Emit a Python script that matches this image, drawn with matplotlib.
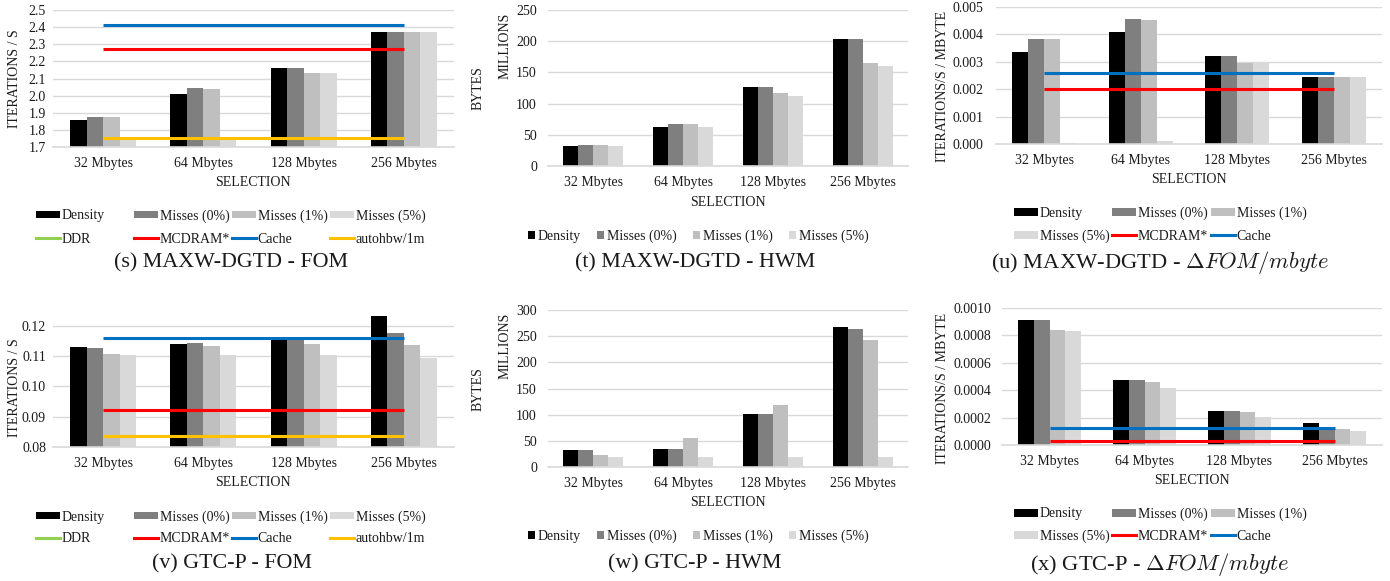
import numpy as np
import matplotlib
matplotlib.use("Agg")
import matplotlib.pyplot as plt
from matplotlib.patches import Rectangle
from matplotlib.lines import Line2D
from matplotlib.ticker import FormatStrFormatter

plt.rcParams['font.family'] = ['Liberation Serif', 'DejaVu Serif']
plt.rcParams['mathtext.fontset'] = 'cm'

# ---------------- data ----------------
categories = ["32 Mbytes", "64 Mbytes", "128 Mbytes", "256 Mbytes"]
series_names = ["Density", "Misses (0%)", "Misses (1%)", "Misses (5%)"]

# (s) MAXW-DGTD - FOM
s_density = [1.86, 2.01, 2.16, 2.37]
s_miss0 = [1.875, 2.045, 2.16, 2.37]
s_miss1 = [1.875, 2.04, 2.13, 2.37]
s_miss5 = [1.755, 1.76, 2.13, 2.37]
s_mcdram = [2.27, 2.27, 2.27, 2.27]
s_cache = [2.415, 2.415, 2.415, 2.415]
s_autohbw = [1.75, 1.75, 1.75, 1.75]

# (t) MAXW-DGTD - HWM (millions of bytes)
t_density = [32, 63, 126, 203]
t_miss0 = [34, 67, 126, 203]
t_miss1 = [34, 67, 117, 165]
t_miss5 = [32, 63, 112, 161]

# (u) MAXW-DGTD - dFOM/mbyte
u_density = [0.00336, 0.00410, 0.00321, 0.00243]
u_miss0 = [0.00383, 0.00455, 0.00320, 0.00243]
u_miss1 = [0.00385, 0.00451, 0.00297, 0.00243]
u_miss5 = [0.00004, 0.00010, 0.00298, 0.00243]
u_mcdram = [0.00202, 0.00202, 0.00202, 0.00202]
u_cache = [0.00259, 0.00259, 0.00259, 0.00259]

# (v) GTC-P - FOM
v_density = [0.1129, 0.1141, 0.1157, 0.1233]
v_miss0 = [0.1127, 0.1143, 0.1160, 0.1177]
v_miss1 = [0.1108, 0.1132, 0.1141, 0.1137]
v_miss5 = [0.1104, 0.1102, 0.1102, 0.1095]
v_mcdram = [0.0922, 0.0922, 0.0922, 0.0922]
v_cache = [0.1158, 0.1158, 0.1158, 0.1158]
v_autohbw = [0.0835, 0.0835, 0.0835, 0.0835]

# (w) GTC-P - HWM (millions of bytes)
w_density = [33, 35, 102, 268]
w_miss0 = [33, 35, 102, 263]
w_miss1 = [23, 56, 119, 242]
w_miss5 = [19, 19, 19, 19]

# (x) GTC-P - dFOM/mbyte
x_density = [0.000910, 0.000475, 0.000248, 0.000158]
x_miss0 = [0.000910, 0.000478, 0.000250, 0.000135]
x_miss1 = [0.000842, 0.000462, 0.000238, 0.000118]
x_miss5 = [0.000830, 0.000413, 0.000205, 0.000100]
x_mcdram = [0.000032, 0.000032, 0.000032, 0.000032]
x_cache = [0.000125, 0.000125, 0.000125, 0.000125]

# ---------------- style ----------------
bar_colors = ["#000000", "#7f7f7f", "#bfbfbf", "#d9d9d9"]
c_ddr, c_mcdram, c_cache, c_auto = "#92d050", "#ff0000", "#0070c0", "#ffc000"
grid_c = "#d9d9d9"
txt_c = "#1a1a1a"
W, H = 1390, 581
CAP = 15.8
CAPM = 16.2

fig = plt.figure(figsize=(W / 100, H / 100), dpi=100)


def fx(x):
    return x / W


def fy(y):
    return 1 - y / H


def make_ax(l, r, t, b):
    return fig.add_axes([fx(l), fy(b), (r - l) / W, (b - t) / H])


def style(ax, ylim, step, fmt, ypad):
    ax.set_xlim(-0.5, 3.5)
    ax.set_ylim(*ylim)
    ax.set_yticks(np.arange(ylim[0], ylim[1] + step * 0.01, step))
    if fmt:
        ax.yaxis.set_major_formatter(FormatStrFormatter(fmt))
    ax.set_xticks(np.arange(len(categories)))
    ax.set_xticklabels(categories)
    for sp in ("top", "right", "left"):
        ax.spines[sp].set_visible(False)
    ax.spines["bottom"].set_color(grid_c)
    ax.spines["bottom"].set_linewidth(1.2)
    ax.grid(axis="y", color=grid_c, linewidth=1.0)
    ax.set_axisbelow(True)
    ax.tick_params(axis="both", length=0, labelsize=10, colors=txt_c)
    ax.tick_params(axis="y", pad=ypad)
    ax.tick_params(axis="x", pad=7)


def bars(ax, series):
    x = np.arange(len(categories))
    w = 0.165
    for i, (vals, col) in enumerate(zip(series, bar_colors)):
        ax.bar(x + (i - 1.5) * w, vals, width=w, color=col, linewidth=0, zorder=2)


def hline(ax, vals, col):
    ax.plot(np.arange(len(categories)), vals, color=col, linewidth=2.2, zorder=3,
            solid_capstyle="butt")


def entry(handle, label, x, y, hh):
    fig.legend(handles=[handle], labels=[label], loc="center left",
               bbox_to_anchor=(fx(x), fy(y)), frameon=False, borderpad=0,
               borderaxespad=0, handlelength=24 / 13.9, handleheight=hh,
               handletextpad=0.12, fontsize=10, labelcolor=txt_c)


def rect(c):
    return Rectangle((0, 0), 1, 1, facecolor=c, edgecolor="none")


def line(c):
    return Line2D([], [], color=c, linewidth=2.2)


# ---- (s)
ax = make_ax(53, 454, 10, 147)
bars(ax, [s_density, s_miss0, s_miss1, s_miss5])
hline(ax, s_mcdram, c_mcdram)
hline(ax, s_cache, c_cache)
hline(ax, s_autohbw, c_auto)
style(ax, (1.7, 2.5), 0.1, "%.1f", 5)
fig.text(fx(15), fy(79), "ITERATIONS / S", rotation=90, ha="center", va="center",
         fontsize=10, color=txt_c)
fig.text(fx(253), fy(183), "SELECTION", ha="center", va="center", fontsize=10, color=txt_c)
xs = [36, 134, 232, 330]
row1 = [rect(c) for c in bar_colors]
row2 = [line(c_ddr), line(c_mcdram), line(c_cache), line(c_auto)]
lab2 = ["DDR", "MCDRAM*", "Cache", "autohbw/1m"]
for i in range(4):
    entry(row1[i], series_names[i], xs[i], 216, 6 / 13.9)
    entry(row2[i], lab2[i], xs[i], 239, 6 / 13.9)
fig.text(fx(231), fy(263), "(s) MAXW-DGTD - FOM", ha="center", va="center",
         fontsize=CAP, color=txt_c)

# ---- (t)
ax = make_ax(548, 908, 10, 166)
bars(ax, [t_density, t_miss0, t_miss1, t_miss5])
style(ax, (0, 250), 50, None, 8)
fig.text(fx(478), fy(88), "BYTES", rotation=90, ha="center", va="center", fontsize=10, color=txt_c)
fig.text(fx(505), fy(46), "MILLIONS", rotation=90, ha="center", va="center", fontsize=10, color=txt_c)
fig.text(fx(728), fy(202), "SELECTION", ha="center", va="center", fontsize=10, color=txt_c)
fig.legend(handles=[rect(c) for c in bar_colors], labels=series_names, ncol=4,
           loc="center left", bbox_to_anchor=(fx(528), fy(236)), frameon=False,
           borderpad=0, borderaxespad=0, handlelength=0.52, handleheight=0.52,
           handletextpad=0.2, columnspacing=1.15, fontsize=10, labelcolor=txt_c)
fig.text(fx(695), fy(263), "(t) MAXW-DGTD - HWM", ha="center", va="center",
         fontsize=CAP, color=txt_c)

# ---- (u)
ax = make_ax(996, 1382, 7, 144)
bars(ax, [u_density, u_miss0, u_miss1, u_miss5])
hline(ax, u_mcdram, c_mcdram)
hline(ax, u_cache, c_cache)
style(ax, (0, 0.005), 0.001, "%.3f", 9)
fig.text(fx(943), fy(86), "ITERATIONS/S / MBYTE", rotation=90, ha="center", va="center",
         fontsize=10, color=txt_c)
fig.text(fx(1189), fy(180), "SELECTION", ha="center", va="center", fontsize=10, color=txt_c)
xs3 = [1014, 1112, 1211]
h_u = [rect(bar_colors[0]), rect(bar_colors[1]), rect(bar_colors[2]),
       rect(bar_colors[3]), line(c_mcdram), line(c_cache)]
l_u = series_names + ["MCDRAM*", "Cache"]
for i in range(6):
    entry(h_u[i], l_u[i], xs3[i % 3], 213 if i < 3 else 236, 7 / 13.9)
fig.text(fx(1160), fy(263), r"(u) MAXW-DGTD - $\Delta FOM/mbyte$", ha="center", va="center",
         fontsize=CAPM, color=txt_c)

# ---- (v)
ax = make_ax(53, 454, 312, 447)
bars(ax, [v_density, v_miss0, v_miss1, v_miss5])
hline(ax, v_mcdram, c_mcdram)
hline(ax, v_cache, c_cache)
hline(ax, v_autohbw, c_auto)
style(ax, (0.08, 0.1245), 0.01, "%.2f", 5)
ax.set_yticks([0.08, 0.09, 0.10, 0.11, 0.12])
fig.text(fx(15), fy(388), "ITERATIONS / S", rotation=90, ha="center", va="center",
         fontsize=10, color=txt_c)
fig.text(fx(253), fy(483), "SELECTION", ha="center", va="center", fontsize=10, color=txt_c)
row1 = [rect(c) for c in bar_colors]
row2 = [line(c_ddr), line(c_mcdram), line(c_cache), line(c_auto)]
for i in range(4):
    entry(row1[i], series_names[i], xs[i], 517, 6 / 13.9)
    entry(row2[i], lab2[i], xs[i], 539, 6 / 13.9)
fig.text(fx(232), fy(564), "(v) GTC-P - FOM", ha="center", va="center",
         fontsize=CAP, color=txt_c)

# ---- (w)
ax = make_ax(548, 908, 310, 467)
bars(ax, [w_density, w_miss0, w_miss1, w_miss5])
style(ax, (0, 300), 50, None, 8)
fig.text(fx(478), fy(389), "BYTES", rotation=90, ha="center", va="center", fontsize=10, color=txt_c)
fig.text(fx(505), fy(346), "MILLIONS", rotation=90, ha="center", va="center", fontsize=10, color=txt_c)
fig.text(fx(728), fy(502), "SELECTION", ha="center", va="center", fontsize=10, color=txt_c)
fig.legend(handles=[rect(c) for c in bar_colors], labels=series_names, ncol=4,
           loc="center left", bbox_to_anchor=(fx(528), fy(536)), frameon=False,
           borderpad=0, borderaxespad=0, handlelength=0.52, handleheight=0.52,
           handletextpad=0.2, columnspacing=1.15, fontsize=10, labelcolor=txt_c)
fig.text(fx(695), fy(564), "(w) GTC-P - HWM", ha="center", va="center",
         fontsize=CAP, color=txt_c)

# ---- (x)
ax = make_ax(1002, 1382, 308, 445)
bars(ax, [x_density, x_miss0, x_miss1, x_miss5])
hline(ax, x_mcdram, c_mcdram)
hline(ax, x_cache, c_cache)
style(ax, (0, 0.001), 0.0002, "%.4f", 8)
fig.text(fx(943), fy(388), "ITERATIONS/S / MBYTE", rotation=90, ha="center", va="center",
         fontsize=10, color=txt_c)
fig.text(fx(1192), fy(481), "SELECTION", ha="center", va="center", fontsize=10, color=txt_c)
h_x = [rect(bar_colors[0]), rect(bar_colors[1]), rect(bar_colors[2]),
       rect(bar_colors[3]), line(c_mcdram), line(c_cache)]
for i in range(6):
    entry(h_x[i], l_u[i], xs3[i % 3], 514 if i < 3 else 536, 7 / 13.9)
fig.text(fx(1160), fy(565), r"(x) GTC-P - $\Delta FOM/mbyte$", ha="center", va="center",
         fontsize=CAPM, color=txt_c)

fig.savefig("out.png", dpi=100)
